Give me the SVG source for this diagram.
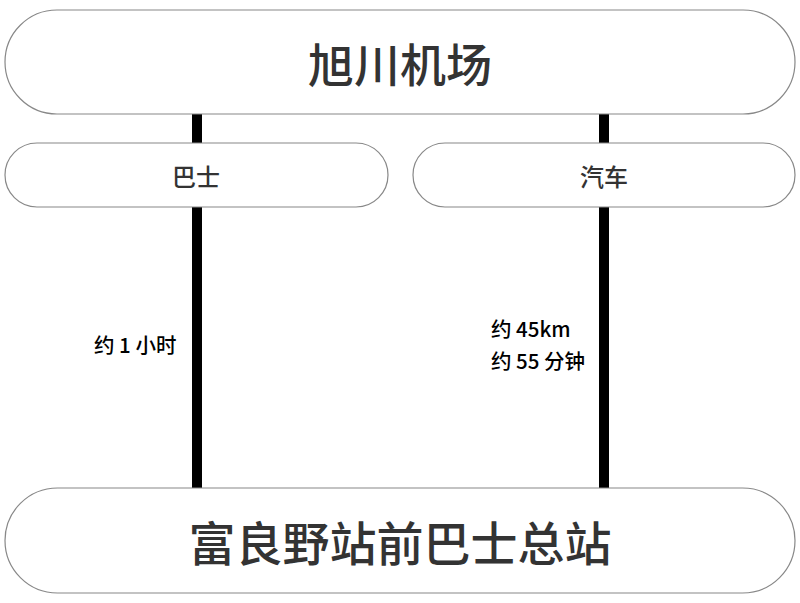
<svg xmlns="http://www.w3.org/2000/svg" width="800" height="603" viewBox="0 0 800 603">
<style>
.box{fill:#fff;stroke:#888;stroke-width:1.2}
.t{font-family:"Noto Sans CJK SC","Noto Sans",sans-serif;fill:#333;text-anchor:middle;dominant-baseline:central;font-weight:500}
.lbl{font-family:"Noto Sans CJK SC","Noto Sans",sans-serif;fill:#000;font-size:20.5px;font-weight:500}
.conn{stroke:#000;stroke-width:10}
</style>
<rect width="800" height="603" fill="#fff"/>
<g id="connectors">
<line class="conn" x1="197" y1="114" x2="197" y2="488"/>
<line class="conn" x1="604" y1="114" x2="604" y2="488"/>
</g>
<g id="airport">
<rect class="box" x="5" y="10" width="790" height="104" rx="52"/>
<text class="t" x="400" y="62" font-size="46">旭川机场</text>
</g>
<g id="bus">
<rect class="box" x="5" y="143" width="383" height="64" rx="32"/>
<text class="t" x="196" y="175" font-size="24">巴士</text>
</g>
<g id="car">
<rect class="box" x="413" y="143" width="382" height="64" rx="32"/>
<text class="t" x="604" y="175" font-size="24">汽车</text>
</g>
<g id="station">
<rect class="box" x="5" y="488" width="790" height="105" rx="52.5"/>
<text class="t" x="400" y="540" font-size="47">富良野站前巴士总站</text>
</g>
<g id="labels">
<text class="lbl" x="94" y="353">约 1 小时</text>
<text class="lbl" x="491" y="337">约 45km</text>
<text class="lbl" x="491" y="369">约 55 分钟</text>
</g>
</svg>
